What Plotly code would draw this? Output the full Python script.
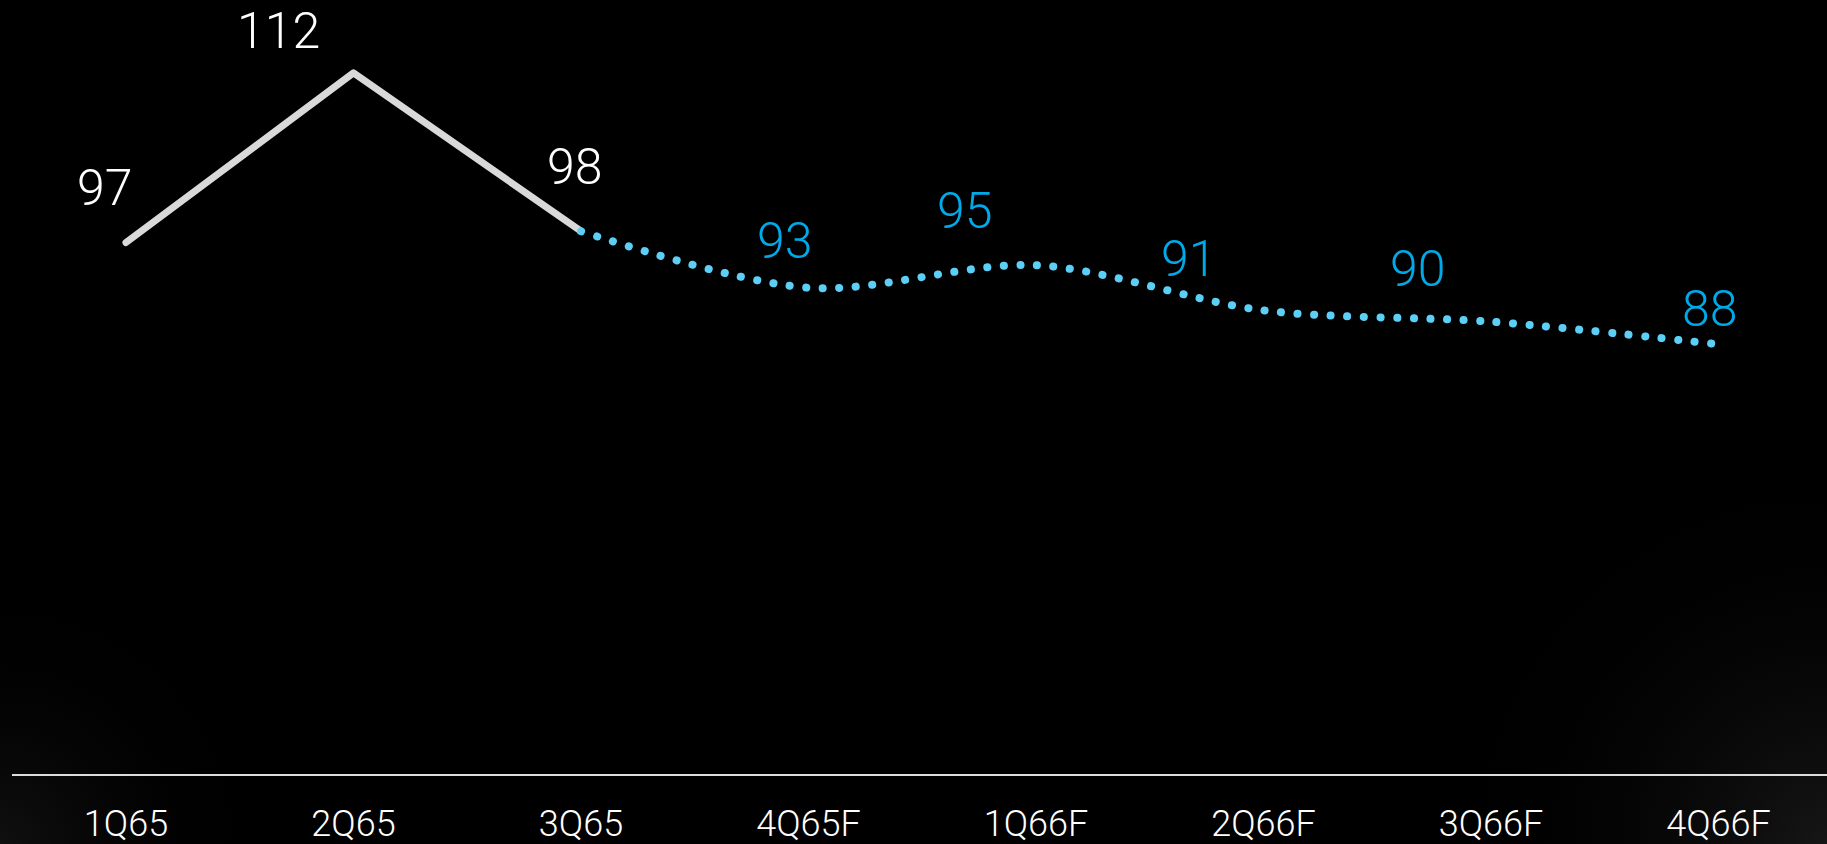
import base64
import plotly.graph_objects as go

categories = ["1Q65", "2Q65", "3Q65", "4Q65F", "1Q66F", "2Q66F", "3Q66F", "4Q66F"]
actual_values = [97, 112, 98]
forecast_values = [98, 93, 95, 91, 90, 88]
label_values = [97, 112, 98, 93, 95, 91, 90, 88]

actual_cats = categories[:3]
forecast_cats = categories[2:]

# label offsets in pixels (style)
label_dx = [-21, -75, -6, -24, -71, -75, -73, -9]
label_dy = [55, 42, 64, 47, 54, 51, 53, 35]

FONT = "Roboto"
WHITE = "#FFFFFF"
BLUE = "#00A9E8"
DOT = "#5CCFF7"
LINE = "#D9D9D9"

W, H = 1827, 844
ML, MB = 12, 70

fig = go.Figure()
fig.add_trace(go.Scatter(
    x=actual_cats, y=actual_values, mode="lines",
    line=dict(color=LINE, width=7), hoverinfo="skip", showlegend=False,
))
fig.add_trace(go.Scatter(
    x=forecast_cats, y=forecast_values, mode="lines",
    line=dict(color=DOT, width=8, dash="0.1px,16.5px", shape="spline", smoothing=0.9),
    hoverinfo="skip", showlegend=False,
))

for i, (c, v) in enumerate(zip(categories, label_values)):
    fig.add_annotation(
        x=c, y=v, text=str(v), showarrow=False,
        xshift=label_dx[i], yshift=label_dy[i],
        xanchor="center", yanchor="middle",
        font=dict(family=FONT, size=50, color=WHITE if i < 3 else BLUE, weight=300),
    )

# subtle corner vignette background
svg = f"""<svg xmlns='http://www.w3.org/2000/svg' width='{W}' height='{H}' viewBox='0 0 {W} {H}'>
<defs>
<radialGradient id='br' cx='{W}' cy='{H}' r='380' gradientUnits='userSpaceOnUse'>
<stop offset='0' stop-color='#161616'/><stop offset='1' stop-color='#000000' stop-opacity='0'/></radialGradient>
<radialGradient id='bl' cx='0' cy='{H}' r='260' gradientUnits='userSpaceOnUse'>
<stop offset='0' stop-color='#101010'/><stop offset='1' stop-color='#000000' stop-opacity='0'/></radialGradient>
</defs>
<rect width='{W}' height='{H}' fill='#000000'/>
<rect width='{W}' height='{H}' fill='url(#br)'/>
<rect width='{W}' height='{H}' fill='url(#bl)'/>
</svg>"""
src = "data:image/svg+xml;base64," + base64.b64encode(svg.encode()).decode()
pw, ph = W - ML, H - MB
fig.add_layout_image(
    source=src, xref="paper", yref="paper",
    x=-ML / pw, y=1.0, sizex=W / pw, sizey=H / ph,
    xanchor="left", yanchor="top", sizing="stretch", layer="below",
)

fig.update_layout(
    width=W, height=H,
    margin=dict(l=ML, r=0, t=0, b=MB, autoexpand=False),
    paper_bgcolor="#000000", plot_bgcolor="rgba(0,0,0,0)",
    showlegend=False,
    xaxis=dict(
        type="category", categoryorder="array", categoryarray=categories,
        range=[-0.501, 7.477], showgrid=False, zeroline=False,
        showline=True, linecolor="#DCDCDC", linewidth=2,
        ticks="", ticklabelstandoff=17, automargin=False,
        tickfont=dict(family=FONT, size=36, color=WHITE, weight=300),
        fixedrange=True,
    ),
    yaxis=dict(
        range=[50.0, 118.45], showgrid=False, zeroline=False, showline=False,
        showticklabels=False, ticks="", fixedrange=True, automargin=False,
    ),
)

post = """
var gd = document.getElementById('{plot_id}');
gd.querySelectorAll('.scatterlayer .js-line').forEach(function(p){
  p.style.strokeLinecap = 'round';
  p.style.strokeLinejoin = 'round';
});
"""
fig.write_html("out.html", post_script=post, config={"displayModeBar": False})
